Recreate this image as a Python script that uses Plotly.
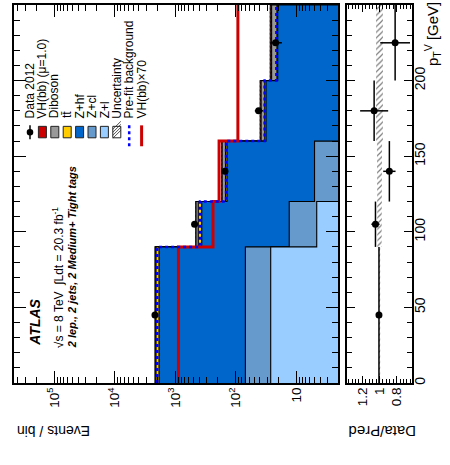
import numpy as np
import plotly.graph_objects as go

# ---------------- data ----------------
pt_edges = [0, 90, 120, 160, 200, 250]          # pT^V bins [GeV]
data_events = [2170, 480, 151, 42, 22]          # Data 2012
vh = [12.7, 3.4, 2.7, 1.32, 1.32]               # VH(bb) (mu=1.0)
diboson = [60, 38, 20, 5.0, 4.7]
ttbar = [225, 51, 8, 1.5, 0.6]
z_hf = [1789.5, 352.9, 135, 30.4, 19.5]
z_cl = [43, 8.5, 3.8, 1.0, 0.6]
z_l = [26.5, 4.6, 1.2, 0.3, 0.2]
prefit_bkg = [1990, 391, 145, 33.4, 21.4]
syst_rel = [0.008, 0.025, 0.03, 0.04, 0.04]     # relative uncertainty band
vh_scale = 70

event_tick_vals = [10, 100, 1000, 10000, 100000]
event_tick_text = ["10", "10<sup>2</sup>", "10<sup>3</sup>", "10<sup>4</sup>", "10<sup>5</sup>"]
ratio_tick_vals = [0.8, 1.0, 1.2]
ratio_tick_text = ["0.8", "1", "1.2"]

colors = {
    "VH(bb) (μ=1.0)": "#cc0000",
    "Diboson": "#999999",
    "tt̄": "#ffcc00",
    "Z+hf": "#0066cc",
    "Z+cl": "#6699cc",
    "Z+l": "#99ccff",
}

FONT = "Liberation Sans, Arial, Helvetica, sans-serif"

edges = np.array(pt_edges, dtype=float)
centers = 0.5 * (edges[:-1] + edges[1:])
halfw = 0.5 * (edges[1:] - edges[:-1])


def step(values):
    v = np.asarray(values, dtype=float)
    xs = np.repeat(v, 2)
    ys = np.column_stack([edges[:-1], edges[1:]]).ravel()
    return xs, ys


fig = go.Figure()

# ---------------- stacked background (horizontal, drawn from top level down) -----
stack_order = [("Z+l", z_l), ("Z+cl", z_cl), ("Z+hf", z_hf), ("tt̄", ttbar),
               ("Diboson", diboson), ("VH(bb) (μ=1.0)", vh)]
cum = np.zeros(len(centers))
levels = []
for name, vals in stack_order:
    cum = cum + np.asarray(vals, dtype=float)
    levels.append((name, cum.copy()))
total = cum.copy()

floor = 1e-3
for name, lev in reversed(levels):
    xs, ys = step(lev)
    fig.add_trace(go.Scatter(
        x=np.concatenate([xs, [floor, floor]]),
        y=np.concatenate([ys, [edges[-1], edges[0]]]),
        fill="toself", fillcolor=colors[name], mode="lines",
        line=dict(color="black", width=1.1), xaxis="x", yaxis="y",
        hoverinfo="skip"))

# uncertainty band on the stack
up_x, up_y = step(total * (1 + np.array(syst_rel)))
dn_x, dn_y = step(total * (1 - np.array(syst_rel)))
fig.add_trace(go.Scatter(
    x=np.concatenate([up_x, dn_x[::-1]]), y=np.concatenate([up_y, dn_y[::-1]]),
    fill="toself", mode="lines", line=dict(width=0),
    fillcolor="rgba(0,0,0,0)",
    fillpattern=dict(shape="/", fgcolor="#444444", bgcolor="rgba(0,0,0,0)", size=3, solidity=0.4),
    xaxis="x", yaxis="y", hoverinfo="skip"))

# VH x70 line
rx, ry = step(np.asarray(vh) * vh_scale)
fig.add_trace(go.Scatter(x=rx, y=ry, mode="lines",
                         line=dict(color="#cc0000", width=3), xaxis="x", yaxis="y",
                         hoverinfo="skip"))
# pre-fit background
px_, py_ = step(prefit_bkg)
fig.add_trace(go.Scatter(x=px_, y=py_, mode="lines",
                         line=dict(color="#0000ff", width=2.5, dash="dot"),
                         xaxis="x", yaxis="y", hoverinfo="skip"))

# data
d = np.asarray(data_events, dtype=float)
fig.add_trace(go.Scatter(
    x=d, y=centers, mode="markers",
    marker=dict(color="black", size=7),
    error_x=dict(type="data", array=np.sqrt(d), color="black", thickness=1.5, width=0),
    xaxis="x", yaxis="y", hoverinfo="skip"))

# ---------------- ratio panel ----------------
rb_x1, rb_y1 = step(1 + np.array(syst_rel))
rb_x2, rb_y2 = step(1 - np.array(syst_rel))
fig.add_trace(go.Scatter(
    x=np.concatenate([rb_x1, rb_x2[::-1]]), y=np.concatenate([rb_y1, rb_y2[::-1]]),
    fill="toself", mode="lines", line=dict(width=0),
    fillcolor="rgba(0,0,0,0)",
    fillpattern=dict(shape="/", fgcolor="black", bgcolor="rgba(0,0,0,0)", size=4, solidity=0.3),
    xaxis="x2", yaxis="y2", hoverinfo="skip"))

ratio = d / total
ratio_err = np.sqrt(d) / total
fig.add_trace(go.Scatter(
    x=ratio, y=centers, mode="markers",
    marker=dict(color="black", size=7),
    error_x=dict(type="data", array=ratio_err, color="black", thickness=1.5, width=0),
    error_y=dict(type="data", array=halfw, color="black", thickness=1.5, width=0),
    xaxis="x2", yaxis="y2", hoverinfo="skip"))

# ---------------- layout ----------------
L, R, T, B = 14, 412, 3, 383


def PX(x):
    return (x - L) / (R - L)


def PY(y):
    return (B - y) / (B - T)


minor_log = [m * 10 ** e for e in range(0, 6) for m in range(2, 10)]

axis_common = dict(showline=True, linecolor="black", linewidth=2, mirror="allticks",
                   ticks="inside", tickcolor="black", showgrid=False, zeroline=False)

fig.update_layout(
    width=450, height=465,
    margin=dict(l=L, r=450 - R, t=T, b=465 - B),
    paper_bgcolor="white", plot_bgcolor="white",
    showlegend=False,
    font=dict(family=FONT, color="black"),
    xaxis=dict(type="log", range=[5.666, 0.311], domain=[0, PX(338)], anchor="y",
               tickvals=event_tick_vals, ticktext=event_tick_text, tickangle=-90,
               tickfont=dict(size=13.5, family=FONT), ticklen=12, tickwidth=1,
               ticklabelstandoff=-3,
               minor=dict(tickvals=minor_log, ticks="inside", ticklen=6, tickcolor="black"),
               **axis_common),
    yaxis=dict(range=[0, 250], domain=[0, 1], anchor="x", showticklabels=False,
               dtick=50, tick0=0, ticklen=12, tickwidth=1,
               minor=dict(dtick=10, ticks="inside", ticklen=6, tickcolor="black"),
               **axis_common),
    xaxis2=dict(range=[1.38, 0.62], domain=[PX(347), 1], anchor="y2",
                tickvals=ratio_tick_vals, ticktext=ratio_tick_text, tickangle=-90,
                tickfont=dict(size=13.5, family=FONT), ticklen=7, tickwidth=1,
                ticklabelstandoff=-3,
                minor=dict(dtick=0.04, tick0=0, ticks="inside", ticklen=4, tickcolor="black"),
                **axis_common),
    yaxis2=dict(range=[0, 250], matches="y", anchor="x2", side="right",
                dtick=50, tick0=0, ticklen=8, tickwidth=1, tickangle=-90,
                tickfont=dict(size=14, family=FONT), ticklabelstandoff=-6,
                minor=dict(dtick=10, ticks="inside", ticklen=5, tickcolor="black"),
                **axis_common),
)

ann = []
# axis titles
ann.append(dict(text="Events / bin", textangle=180, x=PX(15), y=PY(432), xanchor="left",
                yanchor="middle", font=dict(size=14, family=FONT)))
ann.append(dict(text="Data/Pred", textangle=180, x=PX(382.5), y=PY(432), xanchor="center",
                yanchor="middle", font=dict(size=15, family=FONT)))
ann.append(dict(text="p<sub>T</sub><sup>V</sup> [GeV]", textangle=-90, x=PX(432), y=PY(-2),
                xanchor="center", yanchor="top", font=dict(size=15, family=FONT)))
# ATLAS labels
ann.append(dict(text="<b><i>ATLAS</i></b>", textangle=-90, x=PX(35), y=PY(348),
                xanchor="center", yanchor="bottom", font=dict(size=14, family=FONT)))
ann.append(dict(text="√s = 8 TeV  ∫Ldt = 20.3 fb<sup>-1</sup>", textangle=-90, x=PX(58),
                y=PY(350), xanchor="center", yanchor="bottom", font=dict(size=12, family=FONT)))
ann.append(dict(text="<b><i>2 lep., 2 jets, 2 Medium+ Tight tags</i></b>", textangle=-90,
                x=PX(72), y=PY(350), xanchor="center", yanchor="bottom",
                font=dict(size=11, family=FONT)))

# legend (manual, rotated)
legend_items = ["Data 2012", "VH(bb) (μ=1.0)", "Diboson", "tt̄", "Z+hf", "Z+cl", "Z+l",
                "Uncertainty", "Pre-fit background", "VH(bb)×70"]
shapes = []
for i, name in enumerate(legend_items):
    xc = 30 + 12.4 * i
    ann.append(dict(text=name, textangle=-90, x=PX(xc), y=PY(119), xanchor="center",
                    yanchor="bottom", font=dict(size=12, family=FONT)))
    if name == "Data 2012":
        shapes.append(dict(type="line", xref="paper", yref="paper", x0=PX(xc), x1=PX(xc),
                           y0=PY(124), y1=PY(138), line=dict(color="black", width=1.5)))
        shapes.append(dict(type="circle", xref="paper", yref="paper", x0=PX(xc - 3.3),
                           x1=PX(xc + 3.3), y0=PY(134.3), y1=PY(127.7),
                           fillcolor="black", line=dict(color="black", width=0)))
    elif name in colors:
        shapes.append(dict(type="rect", xref="paper", yref="paper", x0=PX(xc - 4),
                           x1=PX(xc + 4), y0=PY(136.5), y1=PY(125),
                           fillcolor=colors[name], line=dict(color="#222222", width=1)))
    elif name == "Uncertainty":
        shapes.append(dict(type="rect", xref="paper", yref="paper", x0=PX(xc - 4),
                           x1=PX(xc + 4), y0=PY(136.5), y1=PY(125),
                           fillcolor="white", line=dict(color="#222222", width=1)))
        for k in range(4):
            y0 = 125 + 3 * k
            shapes.append(dict(type="line", xref="paper", yref="paper",
                               x0=PX(xc - 4), y0=PY(y0 + 3), x1=PX(xc + 4), y1=PY(y0 - 5),
                               line=dict(color="#222222", width=0.8)))
    elif name == "Pre-fit background":
        shapes.append(dict(type="line", xref="paper", yref="paper", x0=PX(xc), x1=PX(xc),
                           y0=PY(124), y1=PY(145), line=dict(color="#0000ff", width=2.5, dash="dot")))
    elif name == "VH(bb)×70":
        shapes.append(dict(type="line", xref="paper", yref="paper", x0=PX(xc), x1=PX(xc),
                           y0=PY(124), y1=PY(145), line=dict(color="#cc0000", width=3)))

for a in ann:
    a.update(xref="paper", yref="paper", showarrow=False)
fig.update_layout(annotations=ann, shapes=shapes)

fig.write_html("out.html", config={"displayModeBar": False},
               post_script="document.body.style.margin='0px';")
